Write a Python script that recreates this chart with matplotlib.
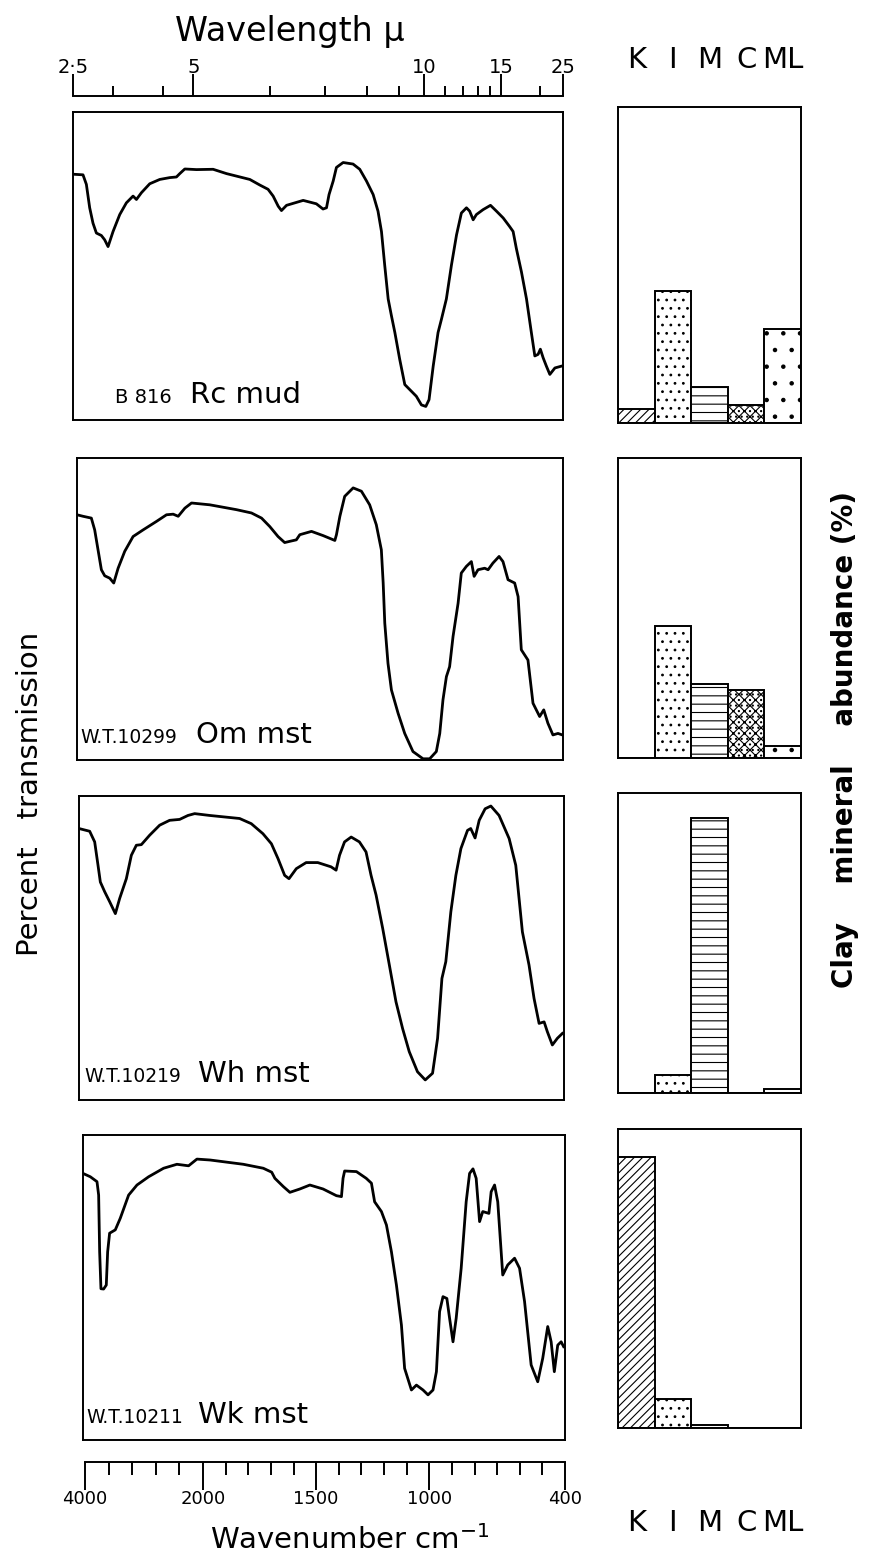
import numpy as np
import matplotlib
matplotlib.use("Agg")
import matplotlib.pyplot as plt

plt.rcParams['font.family'] = ['DejaVu Sans']
plt.rcParams['hatch.linewidth'] = 0.8

# ---------------- data ----------------
samples = ["B 816", "W.T.10299", "W.T.10219", "W.T.10211"]
units = ["Rc mud", "Om mst", "Wh mst", "Wk mst"]

wn1 = [4000, 3834, 3778, 3723, 3668, 3612, 3529, 3474, 3418, 3335, 3224, 3114, 3003, 2947, 2864, 2726,
       2560, 2393, 2283, 2227, 2144, 1987, 1915, 1857, 1756, 1713, 1677, 1655, 1633, 1619, 1597, 1525,
       1468, 1439, 1424, 1413, 1395, 1381, 1352, 1309, 1280, 1251, 1222, 1201, 1186, 1172, 1157, 1143,
       1128, 1107, 1085, 1056, 1035, 1013, 994, 980, 962, 941, 926, 905, 883, 861, 840, 818, 804, 789,
       775, 746, 714, 688, 659, 631, 616, 602, 580, 558, 537, 522, 508, 498, 486, 472, 457, 435, 406]
tr1 = [79.8, 79.6, 76.5, 68.9, 63.9, 60.7, 59.9, 58.5, 56.3, 61.2, 66.7, 70.5, 72.7, 71.6, 73.8, 76.7,
       78.1, 78.7, 78.9, 80.0, 81.5, 81.3, 81.4, 80.0, 78.1, 76.3, 74.9, 72.7, 69.4, 68.0, 69.7, 71.3,
       70.2, 68.5, 68.9, 73.2, 77.6, 82.0, 83.6, 83.1, 81.4, 77.6, 73.2, 67.8, 61.2, 50.3, 39.3, 33.9,
       28.4, 19.7, 11.5, 9.3, 7.7, 4.9, 4.4, 6.6, 17.5, 28.4, 32.8, 39.3, 50.3, 60.1, 67.2, 68.9, 67.8, 65.0,
       66.7, 68.3, 69.7, 67.8, 65.6, 62.8, 61.2, 55.7, 48.1, 39.3, 28.4, 20.8, 21.3, 23.0, 20.2, 17.5, 14.8, 16.9, 17.5]

wn2 = [4000, 3899, 3760, 3704, 3648, 3592, 3536, 3452, 3385, 3312, 3201, 3061, 2893, 2670, 2502, 2390,
       2306, 2194, 2083, 1942, 1826, 1760, 1716, 1680, 1644, 1615, 1593, 1564, 1549, 1498, 1447, 1396,
       1389, 1374, 1353, 1316, 1280, 1244, 1215, 1193, 1185, 1178, 1164, 1149, 1120, 1091, 1055, 1011,
       982, 953, 938, 924, 909, 895, 880, 858, 844, 822, 800, 788, 771, 742, 727, 706, 679, 662, 640,
       611, 596, 582, 553, 531, 502, 484, 466, 444, 422, 403]
tr2 = [81.2, 80.7, 80.1, 76.2, 69.6, 63.0, 61.0, 60.2, 58.6, 63.5, 69.1, 74.0, 76.2, 79.0, 81.2, 81.4,
       80.7, 83.4, 85.1, 84.5, 82.9, 81.8, 80.1, 77.3, 74.0, 72.0, 72.4, 72.9, 74.6, 75.7, 74.3, 72.7,
       74.6, 80.7, 87.3, 90.1, 89.0, 84.5, 77.9, 69.6, 58.6, 45.3, 32.0, 23.2, 15.5, 8.8, 2.8, 0.4,
       0.4, 2.8, 8.8, 19.9, 27.6, 30.9, 40.9, 51.9, 61.9, 64.1, 65.7, 60.8, 63.0, 63.5, 63.0, 65.2, 67.4, 65.7, 59.7,
       58.6, 54.1, 36.5, 33.1, 18.8, 14.4, 16.6, 12.2, 8.3, 8.8, 8.3]

wn3 = [4000, 3821, 3737, 3681, 3642, 3569, 3485, 3390, 3318, 3206, 3122, 3038, 2954, 2815, 2647, 2480,
       2312, 2172, 2060, 1950, 1819, 1768, 1717, 1680, 1651, 1622, 1603, 1571, 1528, 1477, 1419, 1397,
       1382, 1360, 1331, 1295, 1266, 1244, 1222, 1193, 1164, 1135, 1106, 1077, 1041, 1007, 975, 953,
       934, 917, 895, 873, 851, 822, 808, 789, 771, 745, 720, 684, 640, 611, 582, 553, 531, 509, 487,
       473, 451, 429, 407]
tr3 = [89.3, 88.4, 84.9, 77.2, 71.7, 68.5, 65.2, 61.3, 66.3, 72.8, 80.5, 83.8, 84.0, 87.1, 90.4, 92.0,
       92.3, 93.6, 94.2, 93.6, 92.6, 90.9, 87.6, 84.3, 79.4, 73.9, 72.8, 76.1, 78.1, 78.1, 76.7, 75.6,
       80.5, 84.9, 86.5, 84.9, 81.6, 73.9, 67.4, 56.4, 44.4, 32.3, 23.5, 15.9, 9.3, 6.6, 8.8, 20.3,
       40.0, 45.5, 61.9, 73.9, 82.7, 88.7, 89.3, 86.2, 92.0, 95.8, 96.7, 93.6, 86.0, 77.2, 55.3, 44.4, 33.4, 25.2, 25.7,
       22.5, 18.1, 20.3, 21.9]

wn4 = [4000, 3876, 3764, 3736, 3719, 3697, 3652, 3607, 3584, 3551, 3455, 3371, 3230, 3089, 2893, 2640,
       2415, 2218, 2077, 1962, 1816, 1728, 1691, 1677, 1640, 1611, 1567, 1523, 1465, 1406, 1384, 1377,
       1370, 1318, 1275, 1252, 1238, 1208, 1186, 1164, 1142, 1120, 1106, 1076, 1054, 1025, 1003, 981,
       966, 952, 937, 920, 908, 893, 879, 857, 835, 820, 805, 791, 776, 762, 735, 725, 710, 696, 674,
       652, 622, 600, 578, 549, 520, 498, 476, 461, 447, 432, 417, 406]
tr4 = [87.4, 86.3, 84.7, 80.3, 61.7, 49.6, 49.5, 50.8, 61.7, 67.8, 68.9, 72.7, 80.3, 83.6, 86.3, 89.1,
       90.4, 89.9, 92.1, 91.8, 90.4, 89.1, 87.8, 85.8, 83.1, 81.2, 82.3, 83.6, 82.3, 80.1, 79.8, 85.8,
       88.2, 88.0, 85.8, 84.2, 78.1, 74.9, 70.5, 61.7, 50.8, 37.7, 23.5, 16.4, 18.0, 16.4, 14.8, 16.4,
       22.4, 42.1, 47.0, 46.4, 39.9, 32.2, 39.9, 56.3, 78.1, 87.4, 88.9, 85.8, 71.6, 74.9, 74.3, 81.4, 83.6, 78.1, 54.1,
       57.4, 59.6, 56.3, 45.4, 24.6, 19.1, 26.8, 37.2, 32.2, 22.4, 31.1, 32.2, 30.6]

spectra_wn = [wn1, wn2, wn3, wn4]
spectra_tr = [tr1, tr2, tr3, tr4]

minerals = ["K", "I", "M", "C", "ML"]
abund1 = [4.4, 41.8, 11.4, 5.7, 29.7]
abund2 = [0.0, 44.0, 24.7, 22.7, 4.0]
abund3 = [0.0, 6.0, 91.7, 0.0, 1.3]
abund4 = [90.6, 9.7, 1.0, 0.0, 0.0]
abundances = [abund1, abund2, abund3, abund4]
hatches = ["////", "..", "--", "xxx...", "."]

wl_ticks_major = [2.5, 5, 10, 15, 25]
wl_labels = ["2·5", "5", "10", "15", "25"]
wl_ticks_minor = [3, 4, 6, 7, 8, 9, 11, 12, 13, 14, 20]
wn_ticks_major = [4000, 2000, 1500, 1000, 400]
wn_ticks_minor = [3600, 3200, 2800, 2400, 1900, 1800, 1700, 1600, 1400, 1300, 1200, 1100,
                  900, 800, 700, 600, 500]

# ---------------- scale: compressed above 2000 cm-1 ----------------
R = 0.2608

def fwd(w):
    w = np.asarray(w, dtype=float)
    return np.where(w <= 2000, w, 2000 + (w - 2000) * R)

def inv(u):
    u = np.asarray(u, dtype=float)
    return np.where(u <= 2000, u, 2000 + (u - 2000) / R)

W, H = 870, 1561
fig = plt.figure(figsize=(W / 100, H / 100), dpi=100)

def add_ax(x0, y0, x1, y1):
    return fig.add_axes([x0 / W, 1 - y1 / H, (x1 - x0) / W, (y1 - y0) / H])

spec_boxes = [(73, 112, 563, 420), (77, 458, 563, 760), (79, 796, 564, 1100), (83, 1135, 565, 1440)]
bar_boxes = [(618, 107, 801, 423), (618, 458, 801, 758), (618, 793, 801, 1093), (618, 1129, 801, 1428)]
label_pos = [(0.086, 0.239, 0.054), (0.006, 0.245, 0.056), (0.012, 0.245, 0.059), (0.008, 0.239, 0.056)]

for i in range(4):
    ax = add_ax(*spec_boxes[i])
    ax.set_xscale('function', functions=(fwd, inv))
    ax.plot(spectra_wn[i], spectra_tr[i], color='black', lw=2.0, solid_joinstyle='round')
    ax.set_xlim(4000, 400)
    ax.set_ylim(0, 100)
    ax.set_xticks([]); ax.set_yticks([])
    ax.minorticks_off()
    for s in ax.spines.values():
        s.set_linewidth(1.4)
    xs, xu, yb = label_pos[i]
    ax.text(xs, yb, samples[i], transform=ax.transAxes, fontsize=14 if i == 0 else 13.5,
            va='baseline', ha='left')
    ax.text(xu, yb, units[i], transform=ax.transAxes, fontsize=21, va='baseline', ha='left')

    bx = add_ax(*bar_boxes[i])
    xpos = np.arange(len(minerals))
    bx.bar(xpos, abundances[i], width=1.0, color='white', edgecolor='black', lw=1.4,
           hatch=hatches)
    bx.set_xlim(-0.5, 4.5)
    bx.set_ylim(0, 100)
    bx.set_xticks([]); bx.set_yticks([])
    for s in bx.spines.values():
        s.set_linewidth(1.4)
    if i == 0:
        bx.set_xticks(xpos)
        bx.set_xticklabels(minerals)
        bx.tick_params(axis='x', length=0, labelbottom=False, labeltop=True, labelsize=21, pad=24)
    if i == 3:
        bx.set_xticks(xpos)
        bx.set_xticklabels(minerals)
        bx.tick_params(axis='x', length=0, labelbottom=True, labelsize=21, pad=58)

# ---------------- top wavelength ruler ----------------
tr = add_ax(73, 80, 563, 96)
tr.set_xscale('function', functions=(fwd, inv))
tr.set_xlim(4000, 400)
tr.set_ylim(0, 1)
for k in ['top', 'left', 'right']:
    tr.spines[k].set_visible(False)
tr.spines['bottom'].set_linewidth(1.4)
tr.set_yticks([])
tr.set_xticks([1e4 / v for v in wl_ticks_major])
tr.set_xticklabels(wl_labels)
tr.set_xticks([1e4 / v for v in wl_ticks_minor], minor=True)
tr.tick_params(axis='x', which='major', direction='in', length=16, width=1.4,
               labelbottom=False, labeltop=True, labelsize=14, pad=2)
tr.tick_params(axis='x', which='minor', direction='in', length=7, width=1.4)
fig.text(290 / W, 1 - 32 / H, "Wavelength μ", fontsize=24, ha='center', va='center')

# ---------------- bottom wavenumber ruler ----------------
br = add_ax(85, 1462, 565, 1482)
br.set_xscale('function', functions=(fwd, inv))
br.set_xlim(4000, 400)
br.set_ylim(0, 1)
for k in ['bottom', 'left', 'right']:
    br.spines[k].set_visible(False)
br.spines['top'].set_linewidth(1.4)
br.set_yticks([])
br.set_xticks(wn_ticks_major)
br.set_xticklabels([str(v) for v in wn_ticks_major])
br.set_xticks(wn_ticks_minor, minor=True)
br.tick_params(axis='x', which='major', top=True, bottom=False, direction='in', length=20,
               width=1.4, labelsize=13, pad=6)
br.tick_params(axis='x', which='minor', top=True, bottom=False, direction='in', length=9, width=1.4)
fig.text(350 / W, 1 - 1540 / H, "Wavenumber cm$^{-1}$", fontsize=21, ha='center', va='center')

# ---------------- side labels ----------------
fig.text(30 / W, 1 - 794 / H, "Percent   transmission", rotation=90, fontsize=21,
         ha='center', va='center')
fig.text(845 / W, 1 - 740 / H, "Clay    mineral    abundance (%)", rotation=90, fontsize=20,
         fontweight='bold', ha='center', va='center')

fig.savefig("out.png", dpi=100, facecolor='white')
